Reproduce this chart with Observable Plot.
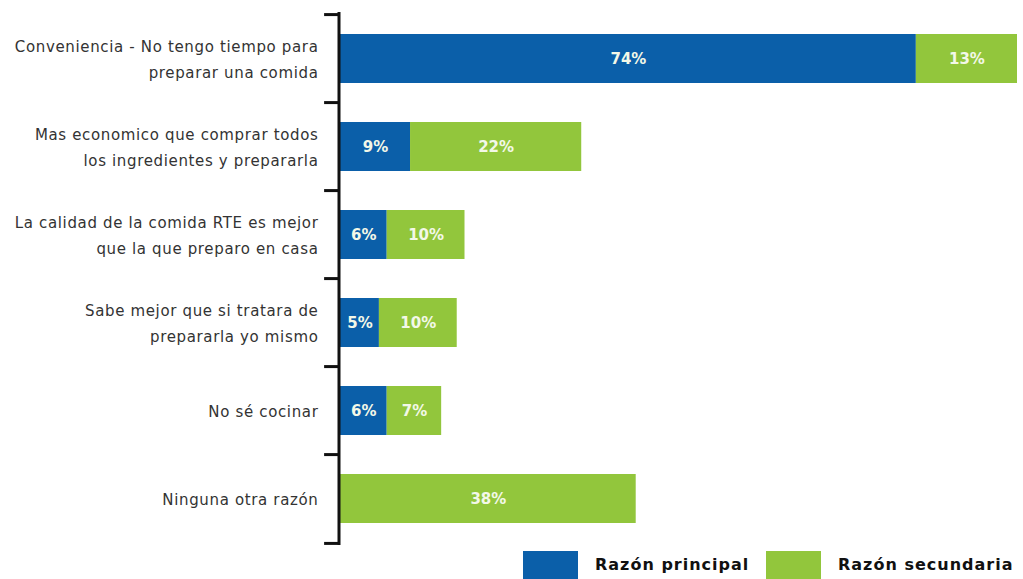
<!DOCTYPE html>
<html>
<head>
<meta charset="utf-8">
<script src="https://cdn.jsdelivr.net/npm/d3@7"></script>
<script src="https://cdn.jsdelivr.net/npm/@observablehq/plot@0.6"></script>
<style>
  html, body { margin: 0; padding: 0; background: #fff; }
  #wrap { position: relative; width: 1023px; height: 579px; overflow: hidden; }
  #legend { position: absolute; left: 0; top: 551px; width: 1023px; height: 28px;
    font-family: "DejaVu Sans", sans-serif; font-weight: bold; font-size: 16px; letter-spacing: 1px; color: #111; }
  .sw { position: absolute; top: 0; width: 55px; height: 30px; }
  .lt { position: absolute; top: 4px; }
</style>
</head>
<body>
<div id="wrap">
  <div id="chart"></div>
  <div id="legend"></div>
</div>
<script>
const categories = [
  "Conveniencia - No tengo tiempo para\npreparar una comida",
  "Mas economico que comprar todos\nlos ingredientes y prepararla",
  "La calidad de la comida RTE es mejor\nque la que preparo en casa",
  "Sabe mejor que si tratara de\nprepararla yo mismo",
  "No sé cocinar",
  "Ninguna otra razón"
];
const series = ["Razón principal", "Razón secundaria"];
const principal = [74, 9, 6, 5, 6, 0];
const secundaria = [13, 22, 10, 10, 7, 38];
const colors = ["#0b5fa9", "#92c63c"];

const rows = [];
categories.forEach((c, i) => {
  rows.push({cat: c, series: series[0], value: principal[i]});
  rows.push({cat: c, series: series[1], value: secundaria[i]});
});

const H = 550, mTop = 12, mBottom = 5;
const step = (H - mTop - mBottom) / categories.length;

const chart = Plot.plot({
  width: 1023,
  height: H,
  marginLeft: 340,
  marginRight: 6,
  marginTop: mTop,
  marginBottom: mBottom,
  x: {domain: [0, 87], axis: null},
  y: {domain: categories, paddingInner: 0.44, paddingOuter: 0.22, axis: null},
  color: {domain: series, range: colors},
  style: {fontFamily: "DejaVu Sans, sans-serif", background: "white"},
  marks: [
    Plot.barX(rows, Plot.stackX({x: "value", y: "cat", fill: "series"})),
    Plot.text(rows, Plot.stackX({
      filter: d => d.value > 0,
      x: "value", y: "cat", z: "series",
      text: d => d.value + "%",
      fill: "#f3f8e8", fontWeight: "bold", fontSize: 15
    })),
    Plot.text(categories, {
      x: 0, y: d => d, text: d => d, dx: -22, dy: -2,
      textAnchor: "end", fontSize: 15, lineHeight: 1.68, fill: "#333"
    }),
    Plot.ruleX([0], {stroke: "#111", strokeWidth: 3, dx: -1.5}),
    Plot.ruleY(categories, {y: d => d, x1: -1.85, x2: 0, dx: -1.5, dy: -step / 2, stroke: "#111", strokeWidth: 3}),
    Plot.ruleY(categories.slice(-1), {y: d => d, x1: -1.85, x2: 0, dx: -1.5, dy: step / 2, stroke: "#111", strokeWidth: 3})
  ]
});
d3.select(chart).selectAll('g[aria-label="text"]')
  .filter((d, i) => i === 1)
  .attr("letter-spacing", "0.65px");
document.getElementById("chart").appendChild(chart);

const legend = document.getElementById("legend");
const lx = [523, 766];
series.forEach((s, i) => {
  const sw = document.createElement("div");
  sw.className = "sw";
  sw.style.left = lx[i] + "px";
  sw.style.background = colors[i];
  legend.appendChild(sw);
  const t = document.createElement("div");
  t.className = "lt";
  t.style.left = (lx[i] + 72) + "px";
  t.textContent = s;
  legend.appendChild(t);
});
</script>
</body>
</html>
